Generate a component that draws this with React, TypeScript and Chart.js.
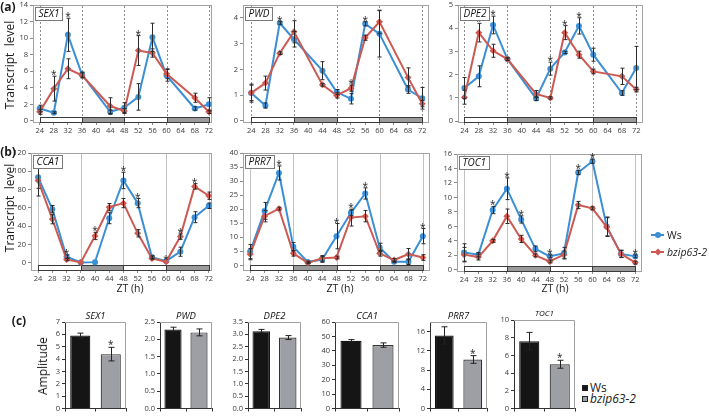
import { useEffect, useRef } from 'react';
import { Chart, registerables } from 'chart.js';
Chart.register(...registerables);

const FONT = "'Open Sans', 'Noto Sans', sans-serif";
Chart.defaults.font.family = FONT;

const BLUE = '#3b8fd5';
const RED = '#cc5a52';
const TICK_COLOR = '#3a3a3a';

// ---------- time axis ----------
const timesA = [24, 28, 32, 36, 44, 48, 52, 56, 60, 68, 72];
const timesB = [24, 28, 32, 36, 40, 44, 48, 52, 56, 60, 64, 68, 72];
const xTickValues = [24, 28, 32, 36, 40, 44, 48, 52, 56, 60, 64, 68, 72];
const dividerTimes = [24, 36, 48, 60, 72];
const phaseStarts = [24, 36, 48, 60];
const phaseEnds = [36, 48, 60, 72];
const phaseDark = [false, true, false, true];

// ---------- (a) SEX1 ----------
const sex1Ws = [1.5, 1.0, 10.4, 5.6, 1.1, 1.6, 2.9, 10.1, 5.5, 1.5, 2.0];
const sex1WsErr = [0.4, 0.1, 2.0, 0.3, 0.2, 0.6, 1.6, 1.7, 0.7, 0.2, 0.8];
const sex1Bz = [1.1, 3.9, 6.3, 5.5, 1.8, 1.2, 8.5, 8.2, 5.7, 2.8, 1.1];
const sex1BzErr = [0.3, 1.5, 1.2, 0.3, 1.0, 0.3, 1.8, 0.5, 0.6, 0.55, 0.2];
const sex1Stars = [28, 32, 52];
const sex1YTicks = [0, 2, 4, 6, 8, 10, 12, 14];

// ---------- (a) PWD ----------
const pwdWs = [1.08, 0.6, 3.8, 3.17, 1.95, 1.12, 0.86, 3.77, 3.38, 1.22, 0.88];
const pwdWsErr = [0.35, 0.1, 0.05, 0.3, 0.35, 0.1, 0.2, 0.08, 0.9, 0.15, 0.42];
const pwdBz = [1.09, 1.47, 2.63, 3.46, 1.4, 0.99, 1.27, 3.23, 3.85, 1.69, 0.67];
const pwdBzErr = [0.3, 0.27, 0.05, 0.43, 0.05, 0.1, 0.12, 0.1, 0.45, 0.37, 0.12];
const pwdStars = [32, 52, 56];
const pwdYTicks = [0, 1, 2, 3, 4];

// ---------- (a) DPE2 ----------
const dpe2Ws = [1.43, 1.93, 4.14, 2.67, 0.97, 2.26, 2.96, 4.1, 2.86, 1.21, 2.29];
const dpe2WsErr = [0.45, 0.45, 0.38, 0.05, 0.08, 0.28, 0.05, 0.35, 0.28, 0.1, 0.93];
const dpe2Bz = [1.03, 3.81, 3.03, 2.67, 1.17, 1.0, 3.81, 2.86, 2.14, 1.93, 1.36];
const dpe2BzErr = [0.3, 0.4, 0.28, 0.05, 0.15, 0.05, 0.3, 0.15, 0.1, 0.35, 0.1];
const dpe2Stars = [28, 32, 48, 52, 56];
const dpe2YTicks = [0, 1, 2, 3, 4, 5];

// ---------- (b) CCA1 ----------
const cca1Ws = [93.4, 58.6, 6.6, 0.4, 0.7, 48.7, 90, 65.2, 6.2, 1.8, 12.1, 49.8, 62.3];
const cca1WsErr = [12, 4, 2, 0.5, 0.5, 6, 9, 5, 1.5, 0.5, 5, 6, 3];
const cca1Bz = [90, 47.6, 3.7, 0.4, 29.3, 60.8, 65.2, 32.2, 4.8, 1.1, 28.6, 83.5, 73.3];
const cca1BzErr = [17, 5, 1.5, 0.5, 4, 4, 5, 4, 1.5, 0.5, 3, 3, 4];
const cca1Stars = [32, 40, 48, 52, 60, 64, 68];
const cca1YTicks = [0, 20, 40, 60, 80, 100, 120];

// ---------- (b) PRR7 ----------
const prr7Ws = [4.9, 19.4, 32.9, 6.6, 1.2, 2.1, 10.4, 18.7, 25.6, 6.4, 1.3, 1.3, 10.4];
const prr7WsErr = [2.5, 3, 2.5, 1.5, 0.3, 1, 4.5, 1, 2, 1.5, 0.3, 1, 2.7];
const prr7Bz = [4.0, 17.5, 20.2, 4.3, 0.9, 2.5, 2.8, 17.0, 17.5, 4.3, 1.9, 4.0, 2.8];
const prr7BzErr = [2, 2, 0.5, 1, 0.3, 1, 0.5, 3, 2, 1, 0.5, 2, 1];
const prr7Stars = [32, 48, 52, 56, 72];
const prr7YTicks = [0, 5, 10, 15, 20, 25, 30, 35, 40];

// ---------- (b) TOC1 ----------
const toc1Ws = [2.4, 2.1, 8.26, 11.2, 6.96, 2.9, 1.86, 2.3, 13.45, 15.0, 6.0, 2.2, 1.86];
const toc1WsErr = [1.2, 0.3, 0.5, 1.5, 0.5, 0.4, 0.2, 0.8, 0.3, 0.3, 1.3, 0.5, 0.2];
const toc1Bz = [2.1, 1.76, 4.0, 7.4, 4.27, 2.0, 1.16, 2.1, 8.95, 8.5, 5.9, 2.2, 1.0];
const toc1BzErr = [1.0, 0.4, 0.2, 1.0, 0.5, 0.2, 0.2, 0.5, 0.5, 0.2, 1.3, 0.5, 0.2];
const toc1Stars = [32, 36, 40, 48, 56, 60, 72];
const toc1YTicks = [0, 2, 4, 6, 8, 10, 12, 14, 16];

// ---------- (c) amplitudes ----------
const strainLabels = ['Ws', 'bzip63-2'];
const ampGenes = ['SEX1', 'PWD', 'DPE2', 'CCA1', 'PRR7', 'TOC1'];
const ampWs = [5.9, 2.28, 3.13, 47, 15.2, 7.6];
const ampWsErr = [0.2, 0.07, 0.07, 0.8, 1.8, 1.0];
const ampBz = [4.4, 2.2, 2.87, 44, 10.2, 5.0];
const ampBzErr = [0.55, 0.1, 0.08, 1.5, 0.8, 0.45];
const ampStar = [true, false, false, false, true, true];
const ampYTicks = [
  [0, 1, 2, 3, 4, 5, 6, 7],
  [0, 0.5, 1, 1.5, 2, 2.5],
  [0, 0.5, 1, 1.5, 2, 2.5, 3, 3.5],
  [0, 10, 20, 30, 40, 50, 60],
  [0, 2, 4, 6, 8, 10, 12, 14, 16, 18],
  [0, 2, 4, 6, 8, 10],
];
const ampDecimals = [0, 1, 1, 0, 0, 0];

// ---------- layout ----------
type Rect = [number, number, number, number];
const Y_W = 24, PAD_T = 8, PAD_R = 8, X_H = 13;
const BY_W = 22, BPAD_T = 14, BPAD_R = 3, BX_H = 5;

type LineSpec = {
  gene: string; times: number[]; ws: number[]; wsErr: number[]; bz: number[]; bzErr: number[];
  stars: number[]; yTicks: number[]; yMin: number; yMax: number; xMin: number; xMax: number;
  plot: Rect; dashed: boolean;
};

const lineSpecs: LineSpec[] = [
  { gene: 'SEX1', times: timesA, ws: sex1Ws, wsErr: sex1WsErr, bz: sex1Bz, bzErr: sex1BzErr, stars: sex1Stars,
    yTicks: sex1YTicks, yMin: -0.25, yMax: 14, xMin: 22.1, xMax: 72.9, plot: [33, 5, 212, 123], dashed: true },
  { gene: 'PWD', times: timesA, ws: pwdWs, wsErr: pwdWsErr, bz: pwdBz, bzErr: pwdBzErr, stars: pwdStars,
    yTicks: pwdYTicks, yMin: -0.08, yMax: 4.5, xMin: 21.7, xMax: 73.9, plot: [243, 5, 429, 123], dashed: true },
  { gene: 'DPE2', times: timesA, ws: dpe2Ws, wsErr: dpe2WsErr, bz: dpe2Bz, bzErr: dpe2BzErr, stars: dpe2Stars,
    yTicks: dpe2YTicks, yMin: -0.08, yMax: 5, xMin: 22.2, xMax: 73.9, plot: [458, 5, 643, 123], dashed: true },
  { gene: 'CCA1', times: timesB, ws: cca1Ws, wsErr: cca1WsErr, bz: cca1Bz, bzErr: cca1BzErr, stars: cca1Stars,
    yTicks: cca1YTicks, yMin: -9, yMax: 120, xMin: 22, xMax: 72.9, plot: [31, 153, 212, 271], dashed: false },
  { gene: 'PRR7', times: timesB, ws: prr7Ws, wsErr: prr7WsErr, bz: prr7Bz, bzErr: prr7BzErr, stars: prr7Stars,
    yTicks: prr7YTicks, yMin: -2, yMax: 40, xMin: 22, xMax: 74, plot: [243, 153, 430, 271], dashed: false },
  { gene: 'TOC1', times: timesB, ws: toc1Ws, wsErr: toc1WsErr, bz: toc1Bz, bzErr: toc1BzErr, stars: toc1Stars,
    yTicks: toc1YTicks, yMin: -0.3, yMax: 16, xMin: 22, xMax: 73.9, plot: [457, 154, 642, 272], dashed: false },
];

const barPlots: Rect[] = [
  [65, 322, 126, 410],
  [160, 322, 212, 410],
  [248, 322, 301, 410],
  [335, 322, 399, 410],
  [430, 322, 487, 410],
  [514, 320, 575, 410],
];

function drawErr(ctx: CanvasRenderingContext2D, px: number, yt: number, yb: number, cap: number) {
  if (yb - yt < 1.5) return;
  ctx.beginPath();
  ctx.moveTo(px, yt); ctx.lineTo(px, yb);
  ctx.moveTo(px - cap, yt); ctx.lineTo(px + cap, yt);
  ctx.moveTo(px - cap, yb); ctx.lineTo(px + cap, yb);
  ctx.stroke();
}

function lineConfig(s: LineSpec): any {
  const pts = (vals: number[]) => s.times.map((t, i) => ({ x: t, y: vals[i] }));
  const plugin = {
    id: 'decor',
    beforeDatasetsDraw(chart: any) {
      const { ctx, chartArea: a } = chart;
      const x = chart.scales.x;
      ctx.save();
      ctx.lineWidth = 1;
      ctx.strokeStyle = '#a3a3a3';
      ctx.strokeRect(a.left + 0.5, a.top + 0.5, a.right - a.left - 1, a.bottom - a.top - 1);
      const barTop = a.bottom - 6;
      ctx.strokeStyle = s.dashed ? '#8c8c8c' : '#c2c2c2';
      ctx.setLineDash(s.dashed ? [2, 2] : []);
      for (const t of dividerTimes) {
        const px = Math.round(x.getPixelForValue(t)) + 0.5;
        ctx.beginPath(); ctx.moveTo(px, a.top + 1); ctx.lineTo(px, barTop); ctx.stroke();
      }
      ctx.setLineDash([]);
      phaseStarts.forEach((t0, i) => {
        const x0 = Math.round(x.getPixelForValue(t0)) + 0.5;
        const x1 = Math.round(x.getPixelForValue(phaseEnds[i])) + 0.5;
        ctx.fillStyle = phaseDark[i] ? '#9b9b9b' : '#ffffff';
        ctx.fillRect(x0, barTop + 0.5, x1 - x0, 5);
        ctx.strokeStyle = '#3a3a3a';
        ctx.strokeRect(x0, barTop + 0.5, x1 - x0, 5);
      });
      ctx.restore();
    },
    afterDatasetsDraw(chart: any) {
      const { ctx, chartArea: a } = chart;
      const x = chart.scales.x, y = chart.scales.y;
      ctx.save();
      ctx.strokeStyle = '#2a2a2a';
      ctx.lineWidth = 1;
      const sets: [number[], number[]][] = [[s.ws, s.wsErr], [s.bz, s.bzErr]];
      for (const [vals, errs] of sets) {
        s.times.forEach((t, i) => {
          const px = Math.round(x.getPixelForValue(t)) + 0.5;
          drawErr(ctx, px, y.getPixelForValue(vals[i] + errs[i]), y.getPixelForValue(vals[i] - errs[i]), 2);
        });
      }
      ctx.fillStyle = '#222';
      ctx.font = `10px ${FONT}`;
      ctx.textAlign = 'center';
      ctx.textBaseline = 'alphabetic';
      for (const t of s.stars) {
        const i = s.times.indexOf(t);
        const top = Math.max(s.ws[i] + s.wsErr[i], s.bz[i] + s.bzErr[i]);
        ctx.fillText('*', x.getPixelForValue(t), y.getPixelForValue(top) + 2);
      }
      ctx.font = `italic 10px ${FONT}`;
      const w = Math.round(ctx.measureText(s.gene).width + 6);
      const bx = a.left + 2.5, by = a.top + 2.5;
      ctx.fillStyle = '#fff';
      ctx.fillRect(bx, by, w, 13);
      ctx.strokeStyle = '#7a7a7a';
      ctx.strokeRect(bx, by, w, 13);
      ctx.fillStyle = '#111';
      ctx.textAlign = 'left';
      ctx.textBaseline = 'middle';
      ctx.fillText(s.gene, bx + 3, by + 7);
      ctx.restore();
    },
  };
  return {
    type: 'line',
    data: {
      datasets: [
        { label: 'Ws', data: pts(s.ws), borderColor: BLUE, backgroundColor: BLUE, borderWidth: 2,
          pointRadius: 3, pointBorderWidth: 0, pointStyle: 'circle', order: 1 },
        { label: 'bzip63-2', data: pts(s.bz), borderColor: RED, backgroundColor: RED, borderWidth: 2,
          pointRadius: 3.5, pointBorderWidth: 0, pointStyle: 'rectRot', order: 0 },
      ],
    },
    options: {
      animation: false, responsive: false, devicePixelRatio: 1,
      layout: { padding: { top: PAD_T, right: PAD_R, left: 0, bottom: 0 } },
      plugins: { legend: { display: false }, tooltip: { enabled: false } },
      events: [],
      scales: {
        x: {
          type: 'linear', min: s.xMin, max: s.xMax,
          afterBuildTicks: (sc: any) => { sc.ticks = xTickValues.map((v) => ({ value: v })); },
          afterFit: (sc: any) => { sc.height = X_H; },
          grid: { drawOnChartArea: false, drawTicks: true, tickLength: 2, color: '#8a8a8a' },
          border: { display: false },
          ticks: { font: { size: 7.5 }, color: TICK_COLOR, padding: 1, maxRotation: 0, autoSkip: false,
            callback: (v: any) => String(v) },
        },
        y: {
          min: s.yMin, max: s.yMax,
          afterBuildTicks: (sc: any) => { sc.ticks = s.yTicks.map((v) => ({ value: v })); },
          afterFit: (sc: any) => { sc.width = Y_W; },
          grid: { drawOnChartArea: false, drawTicks: true, tickLength: 3, color: '#8a8a8a' },
          border: { display: false },
          ticks: { font: { size: 7.5 }, color: TICK_COLOR, padding: 2, callback: (v: any) => String(v) },
        },
      },
    },
    plugins: [plugin],
  };
}

function barConfig(i: number): any {
  const vals = [ampWs[i], ampBz[i]];
  const errs = [ampWsErr[i], ampBzErr[i]];
  const ticks = ampYTicks[i];
  const plugin = {
    id: 'bardecor',
    afterDatasetsDraw(chart: any) {
      const { ctx, chartArea: a } = chart;
      const x = chart.scales.x, y = chart.scales.y;
      ctx.save();
      ctx.strokeStyle = '#a0a0a0';
      ctx.lineWidth = 1;
      ctx.beginPath();
      ctx.moveTo(a.left, a.top + 0.5); ctx.lineTo(a.right - 0.5, a.top + 0.5); ctx.lineTo(a.right - 0.5, a.bottom);
      ctx.stroke();
      ctx.strokeStyle = '#222';
      vals.forEach((v, k) => {
        const px = Math.round(x.getPixelForValue(k)) + 0.5;
        drawErr(ctx, px, y.getPixelForValue(v + errs[k]), y.getPixelForValue(v - errs[k]), 3);
      });
      if (ampStar[i]) {
        ctx.fillStyle = '#222';
        ctx.font = `10px ${FONT}`;
        ctx.textAlign = 'center';
        ctx.fillText('*', x.getPixelForValue(1), y.getPixelForValue(vals[1] + errs[1]) + 1);
      }
      ctx.fillStyle = '#111';
      ctx.font = `italic ${i === 5 ? 8 : 9.5}px ${FONT}`;
      ctx.textAlign = 'center';
      ctx.textBaseline = 'alphabetic';
      ctx.fillText(ampGenes[i], (a.left + a.right) / 2, a.top - (i === 5 ? 4 : 3));
      ctx.restore();
    },
  };
  return {
    type: 'bar',
    data: {
      labels: strainLabels,
      datasets: [{
        data: vals,
        backgroundColor: ['#151515', '#9d9fa4'],
        borderColor: ['#151515', '#333333'],
        borderWidth: 1.2,
        barPercentage: 0.66,
        categoryPercentage: 1,
      }],
    },
    options: {
      animation: false, responsive: false, devicePixelRatio: 1,
      layout: { padding: { top: BPAD_T, right: BPAD_R, left: 0, bottom: 0 } },
      plugins: { legend: { display: false }, tooltip: { enabled: false } },
      events: [],
      scales: {
        x: {
          afterFit: (sc: any) => { sc.height = BX_H; },
          grid: { offset: true, drawOnChartArea: false, drawTicks: true, tickLength: 3, color: '#333' },
          border: { display: true, color: '#333' },
          ticks: { display: false },
        },
        y: {
          min: 0, max: ticks[ticks.length - 1],
          afterBuildTicks: (sc: any) => { sc.ticks = ticks.map((v) => ({ value: v })); },
          afterFit: (sc: any) => { sc.width = BY_W; },
          grid: { drawOnChartArea: false, drawTicks: true, tickLength: 3, color: '#333' },
          border: { display: true, color: '#333' },
          ticks: { font: { size: 7.5 }, color: TICK_COLOR, padding: 2,
            callback: (v: any) => Number(v).toFixed(ampDecimals[i]) },
        },
      },
    },
    plugins: [plugin],
  };
}

function ChartCanvas({ left, top, width, height, make }: { left: number; top: number; width: number; height: number; make: () => any }) {
  const ref = useRef<HTMLCanvasElement>(null);
  useEffect(() => {
    const chart = new Chart(ref.current as HTMLCanvasElement, make());
    return () => chart.destroy();
  }, []);
  return (
    <div style={{ position: 'absolute', left, top, width, height }}>
      <canvas ref={ref} width={width} height={height} style={{ display: 'block', width, height }} />
    </div>
  );
}

function Txt({ x, y, children, size = 11, bold = false, italic = false, rotate = false }: any) {
  return (
    <div style={{
      position: 'absolute', left: x, top: y, whiteSpace: 'pre', fontSize: size, lineHeight: 1,
      fontWeight: bold ? 700 : 400, fontStyle: italic ? 'italic' : 'normal', color: '#1a1a1a',
      transform: `translate(-50%, -50%)${rotate ? ' rotate(-90deg)' : ''}`,
    }}>{children}</div>
  );
}

function LineLegend({ x, y }: { x: number; y: number }) {
  const item = (dy: number, color: string, diamond: boolean, label: string, italic: boolean) => (
    <div style={{ position: 'absolute', left: x, top: y + dy, height: 0 }}>
      <div style={{ position: 'absolute', left: 0, top: -1, width: 13, height: 2, background: color }} />
      <div style={{
        position: 'absolute', left: 3.5, top: -3, width: 6, height: 6, background: color,
        borderRadius: diamond ? 0 : 3, transform: diamond ? 'rotate(45deg) scale(0.85)' : 'none',
      }} />
      <div style={{ position: 'absolute', left: 16, top: -7, fontSize: 10.5, lineHeight: '14px', whiteSpace: 'nowrap',
        fontStyle: italic ? 'italic' : 'normal', color: '#1a1a1a' }}>{label}</div>
    </div>
  );
  return (<>{item(0, BLUE, false, strainLabels[0], false)}{item(17, RED, true, strainLabels[1], true)}</>);
}

function BarLegend({ x, y }: { x: number; y: number }) {
  const item = (dy: number, fill: string, label: string, italic: boolean) => (
    <div style={{ position: 'absolute', left: x, top: y + dy, height: 0 }}>
      <div style={{ position: 'absolute', left: 0, top: -3, width: 6, height: 6, background: fill, boxSizing: 'border-box', border: '1px solid #222' }} />
      <div style={{ position: 'absolute', left: 8, top: -7, fontSize: 12, lineHeight: '14px', whiteSpace: 'nowrap',
        fontStyle: italic ? 'italic' : 'normal', color: '#1a1a1a' }}>{label}</div>
    </div>
  );
  return (<>{item(0, '#151515', strainLabels[0], false)}{item(11, '#9d9fa4', strainLabels[1], true)}</>);
}

export default function App() {
  return (
    <div style={{ position: 'fixed', left: 0, top: 0, width: 709, height: 416, background: '#fff', fontFamily: FONT, overflow: 'hidden' }}>
      {lineSpecs.map((s) => {
        const [L, T, R, B] = s.plot;
        return (
          <ChartCanvas key={s.gene} left={L - Y_W} top={T - PAD_T} width={R - L + Y_W + PAD_R} height={B - T + PAD_T + X_H}
            make={() => lineConfig(s)} />
        );
      })}
      {barPlots.map(([L, T, R, B], i) => (
        <ChartCanvas key={'bar' + i} left={L - BY_W} top={T - BPAD_T} width={R - L + BY_W + BPAD_R} height={B - T + BPAD_T + BX_H}
          make={() => barConfig(i)} />
      ))}
      <Txt x={8} y={7} size={12} bold>(a)</Txt>
      <Txt x={8} y={152} size={12} bold>(b)</Txt>
      <Txt x={19} y={321} size={12} bold>(c)</Txt>
      <Txt x={10} y={65} size={12} rotate>{'Transcript  level'}</Txt>
      <Txt x={10} y={208} size={12} rotate>{'Transcript  level'}</Txt>
      <Txt x={43} y={366} size={12} rotate>Amplitude</Txt>
      <Txt x={130} y={288} size={10.5}>ZT (h)</Txt>
      <Txt x={340} y={288} size={10.5}>ZT (h)</Txt>
      <Txt x={555} y={288} size={10.5}>ZT (h)</Txt>
      <LineLegend x={651} y={235} />
      <BarLegend x={582} y={388} />
    </div>
  );
}
